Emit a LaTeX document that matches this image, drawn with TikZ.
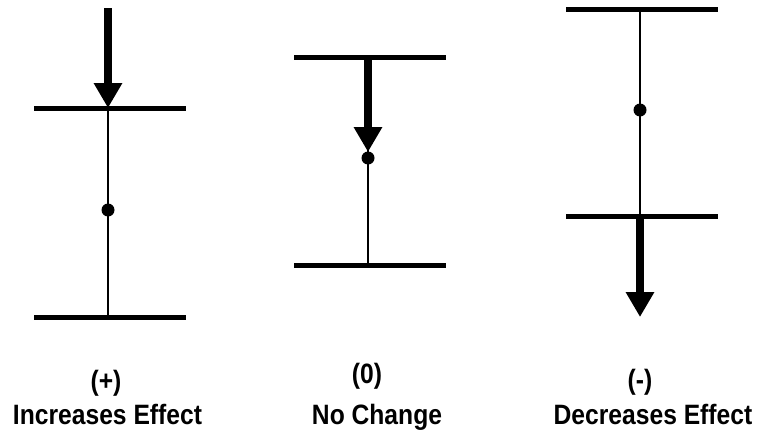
\documentclass[tikz,border=0pt]{standalone}
\usepackage{fontspec}
\setmainfont{Liberation Sans}[FakeStretch=0.88]
\usetikzlibrary{arrows.meta}
\tikzset{
  bar/.style={line width=5pt},
  stem/.style={line width=2pt},
  bigarrow/.style={line width=8pt,-{Triangle[width=27pt,length=25pt]}},
  dot/.style={circle,fill=black,inner sep=0pt,minimum size=13pt},
  lbl/.style={anchor=base,inner sep=0pt,font=\fontsize{28}{32}\selectfont\bfseries}
}
\begin{document}
\begin{tikzpicture}[x=1pt,y=-1pt]
\useasboundingbox (0,0) rectangle (758,431);
% left: increases effect
\coordinate (La) at (108,8);
\coordinate (Lt) at (108,108);
\coordinate (Lb) at (108,317);
\coordinate (Ltl) at (34,108); \coordinate (Ltr) at (186,108);
\coordinate (Lbl) at (34,317); \coordinate (Lbr) at (186,317);
\node[dot] (Ld) at (108,210) {};
\draw[stem] (Lt) -- (Lb);
\draw[bar] (Ltl) -- (Ltr);
\draw[bar] (Lbl) -- (Lbr);
\draw[bigarrow] (La) -- (Lt);
% middle: no change
\coordinate (Mt) at (368,57);
\coordinate (Mb) at (368,265);
\coordinate (Mtl) at (294,57); \coordinate (Mtr) at (446,57);
\coordinate (Mbl) at (294,265); \coordinate (Mbr) at (446,265);
\coordinate (Mtip) at (368,152);
\node[dot] (Md) at (368,158) {};
\draw[stem] (Mt) -- (Mb);
\draw[bar] (Mtl) -- (Mtr);
\draw[bar] (Mbl) -- (Mbr);
\draw[bigarrow] (Mt) -- (Mtip);
% right: decreases effect
\coordinate (Rt) at (640,9);
\coordinate (Rb) at (640,216);
\coordinate (Rtl) at (566,9); \coordinate (Rtr) at (718,9);
\coordinate (Rbl) at (566,216); \coordinate (Rbr) at (718,216);
\coordinate (Rtip) at (640,317);
\node[dot] (Rd) at (640,110) {};
\draw[stem] (Rt) -- (Rb);
\draw[bar] (Rtl) -- (Rtr);
\draw[bar] (Rbl) -- (Rbr);
\draw[bigarrow] (Rb) -- (Rtip);
% labels
\node[lbl] (L1) at (106,390) {(+)};
\node[lbl] (L2) at (107.5,424) {Increases Effect};
\node[lbl] (M1) at (367,383) {(0)};
\node[lbl] (M2) at (377,424) {No Change};
\node[lbl] (R1) at (640,389) {(-)};
\node[lbl] (R2) at (653,424) {Decreases Effect};
\end{tikzpicture}
\end{document}
